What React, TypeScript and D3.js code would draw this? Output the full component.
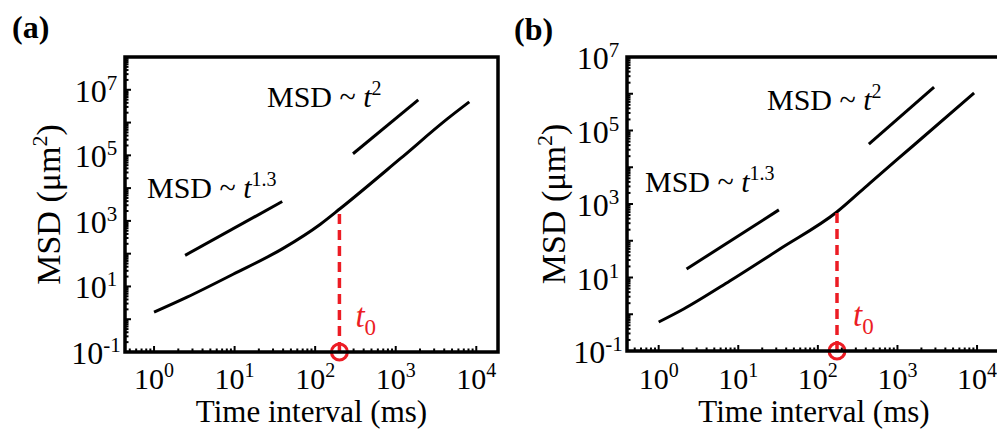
import React from "react";
import * as d3 from "d3";

// ---------------- data ----------------
const panelLabels = ["(a)", "(b)"];
const xTickExponents = [0, 1, 2, 3, 4];
const yTickExponents = [-1, 1, 3, 5, 7];

// panel (a) MSD curve (time in ms, MSD in um^2)
const timeA = [1, 2.57, 9.58, 40.0, 115, 205, 1138, 4365, 8185];
const msdA = [1.64, 4.7, 23.5, 145, 778, 2380, 78900, 1.29e6, 4.26e6];
// panel (b) MSD curve
const timeB = [1, 2.06, 7.82, 33.3, 173, 451, 1614, 9160];
const msdB = [0.615, 1.39, 8.04, 59.7, 605, 3720, 40300, 1.05e6];

// guide lines (power laws)
const fitLowTimeA = [2.43, 39];
const fitLowMsdA = [89, 3890];
const fitHighTimeA = [295, 1905];
const fitHighMsdA = [112000, 4.9e6];
const fitLowTimeB = [2.24, 32.4];
const fitLowMsdB = [17, 692];
const fitHighTimeB = [437, 2884];
const fitHighMsdB = [42700, 1.51e6];

const t0Values = [200, 174];
const lowExponentLabel = "1.3";
const highExponentLabel = "2";

// ---------------- layout ----------------
const RED = "#ec1c24";
const FONT = "'Liberation Serif', 'Times New Roman', Times, serif";

type PanelCfg = {
  left: number; top: number; right: number; bottom: number;
  xDomain: [number, number]; yDomain: [number, number];
  time: number[]; msd: number[];
  fitLowT: number[]; fitLowM: number[]; fitHighT: number[]; fitHighM: number[];
  t0: number; label: string; labelX: number; labelY: number;
  lowTextX: number; lowTextY: number; highTextX: number; highTextY: number;
  yTitleX: number;
};

const panels: PanelCfg[] = [
  {
    left: 125, top: 57, right: 498, bottom: 352,
    xDomain: [0.436, 18600], yDomain: [0.1, 1e8],
    time: timeA, msd: msdA,
    fitLowT: fitLowTimeA, fitLowM: fitLowMsdA, fitHighT: fitHighTimeA, fitHighM: fitHighMsdA,
    t0: t0Values[0], label: panelLabels[0], labelX: 12, labelY: 38,
    lowTextX: 147, lowTextY: 198, highTextX: 267, highTextY: 107,
    yTitleX: 60,
  },
  {
    left: 627, top: 57, right: 1001, bottom: 351,
    xDomain: [0.4, 20000], yDomain: [0.1, 1e7],
    time: timeB, msd: msdB,
    fitLowT: fitLowTimeB, fitLowM: fitLowMsdB, fitHighT: fitHighTimeB, fitHighM: fitHighMsdB,
    t0: t0Values[1], label: panelLabels[1], labelX: 514, labelY: 40,
    lowTextX: 645, lowTextY: 192, highTextX: 767, highTextY: 110,
    yTitleX: 565,
  },
];

function logTicks(domain: [number, number]) {
  const out: { v: number; major: boolean }[] = [];
  const lo = Math.floor(Math.log10(domain[0]));
  const hi = Math.ceil(Math.log10(domain[1]));
  for (let e = lo; e <= hi; e++) {
    for (let m = 1; m <= 9; m++) {
      const v = m * Math.pow(10, e);
      if (v >= domain[0] * 0.999 && v <= domain[1] * 1.001) out.push({ v, major: m === 1 });
    }
  }
  return out;
}

function Panel({ cfg }: { cfg: PanelCfg }) {
  const x = d3.scaleLog().domain(cfg.xDomain).range([cfg.left, cfg.right]);
  const y = d3.scaleLog().domain(cfg.yDomain).range([cfg.bottom, cfg.top]);
  const line = d3
    .line<[number, number]>()
    .x((d) => x(d[0]))
    .y((d) => y(d[1]))
    .curve(d3.curveMonotoneX);
  const curve = line(cfg.time.map((t, i) => [t, cfg.msd[i]] as [number, number])) || "";
  const fitLow = line(cfg.fitLowT.map((t, i) => [t, cfg.fitLowM[i]] as [number, number])) || "";
  const fitHigh = line(cfg.fitHighT.map((t, i) => [t, cfg.fitHighM[i]] as [number, number])) || "";

  // MSD at t0 via log-log interpolation of the curve
  const lt = cfg.time.map(Math.log10);
  const lm = cfg.msd.map(Math.log10);
  const interp = d3.scaleLinear().domain(lt).range(lm);
  const msdAtT0 = Math.pow(10, interp(Math.log10(cfg.t0)));

  const xt = logTicks(cfg.xDomain);
  const yt = logTicks(cfg.yDomain);
  const cx = (cfg.left + cfg.right) / 2;
  const cy = (cfg.top + cfg.bottom) / 2;

  return (
    <g style={{ fontFamily: FONT }}>
      <text x={cfg.labelX} y={cfg.labelY} fontSize={32} fontWeight="bold">{cfg.label}</text>

      {/* ticks */}
      {xt.map((t, i) => (
        <line key={"xt" + i} x1={x(t.v)} x2={x(t.v)} y1={cfg.bottom} y2={cfg.bottom - (t.major ? 6 : 3.5)}
          stroke="#000" strokeWidth={2} />
      ))}
      {yt.map((t, i) => (
        <line key={"yt" + i} x1={cfg.left} x2={cfg.left + (t.major ? 6 : 3.5)} y1={y(t.v)} y2={y(t.v)}
          stroke="#000" strokeWidth={2} />
      ))}

      {/* tick labels */}
      {xTickExponents.map((e) => (
        <text key={"xl" + e} x={x(Math.pow(10, e))} y={389} fontSize={30} textAnchor="middle">
          10<tspan fontSize={20} dy={-12}>{e}</tspan>
        </text>
      ))}
      {yTickExponents.map((e) => (
        <text key={"yl" + e} x={cfg.left - 29} y={y(Math.pow(10, e)) + 12} fontSize={32} textAnchor="middle">
          10<tspan fontSize={21} dy={-12}>{e}</tspan>
        </text>
      ))}

      {/* axis titles */}
      <text x={cx} y={422} fontSize={31} textAnchor="middle">Time interval (ms)</text>
      <text transform={`translate(${cfg.yTitleX},${cy}) rotate(-90)`} fontSize={34} textAnchor="middle">
        MSD (μm<tspan fontSize={22} dy={-13}>2</tspan><tspan dy={13}>)</tspan>
      </text>

      {/* curves */}
      <path d={curve} fill="none" stroke="#000" strokeWidth={3} strokeLinejoin="round" />
      <path d={fitLow} fill="none" stroke="#000" strokeWidth={3} />
      <path d={fitHigh} fill="none" stroke="#000" strokeWidth={3} />

      {/* annotations */}
      <text x={cfg.lowTextX} y={cfg.lowTextY} fontSize={30}>
        MSD ~ <tspan fontStyle="italic">t</tspan><tspan fontSize={20} dy={-12}>{lowExponentLabel}</tspan>
      </text>
      <text x={cfg.highTextX} y={cfg.highTextY} fontSize={30}>
        MSD ~ <tspan fontStyle="italic">t</tspan><tspan fontSize={20} dy={-12}>{highExponentLabel}</tspan>
      </text>

      {/* t0 marker */}
      <line x1={x(cfg.t0)} x2={x(cfg.t0)} y1={cfg.bottom} y2={y(msdAtT0)} stroke={RED} strokeWidth={3.5}
        strokeDasharray="10,6" />
      <circle cx={x(cfg.t0)} cy={cfg.bottom} r={8} fill="none" stroke={RED} strokeWidth={3} />
      <text x={x(cfg.t0) + 16} y={cfg.bottom - 25} fontSize={33} fill={RED}>
        <tspan fontStyle="italic">t</tspan><tspan fontSize={23} dy={8}>0</tspan>
      </text>

      {/* frame */}
      <rect x={cfg.left} y={cfg.top} width={cfg.right - cfg.left} height={cfg.bottom - cfg.top}
        fill="none" stroke="#000" strokeWidth={3.5} />
    </g>
  );
}

export default function App() {
  return (
    <svg width={997} height={429} style={{ position: "absolute", left: 0, top: 0, background: "#fff" }}>
      <rect width={997} height={429} fill="#fff" />
      {panels.map((p, i) => (
        <Panel key={i} cfg={p} />
      ))}
    </svg>
  );
}
